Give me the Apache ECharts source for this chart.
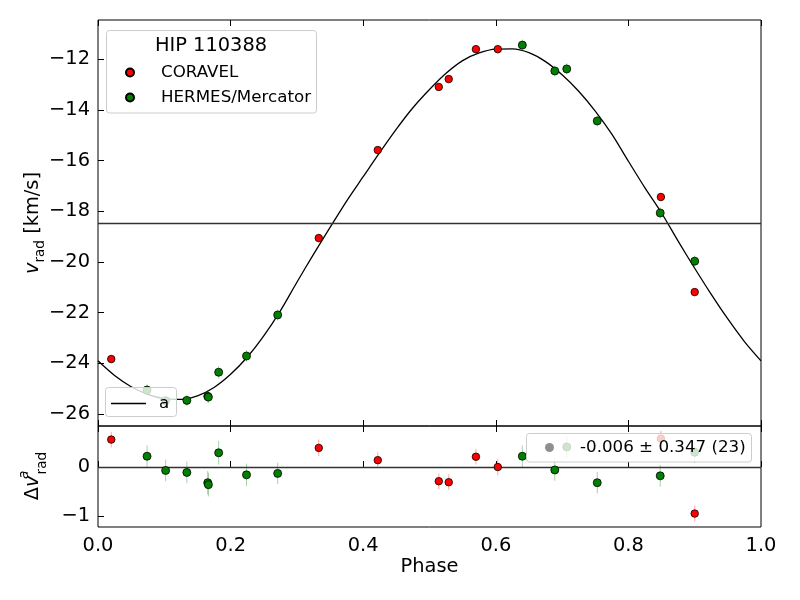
<!DOCTYPE html>
<html>
<head>
<meta charset="utf-8">
<script src="https://cdn.jsdelivr.net/npm/echarts@6/dist/echarts.min.js"></script>
<style>
  html, body { margin: 0; padding: 0; background: #fff; }
  #chart { width: 800px; height: 600px; }
</style>
</head>
<body>
<div id="chart"></div>
<script>
// CORAVEL measurements
const coravelPhase = [0.020, 0.333, 0.422, 0.514, 0.529, 0.570, 0.603, 0.849, 0.900];
const coravelVrad = [-23.83, -19.06, -15.59, -13.10, -12.79, -11.61, -11.61, -17.44, -21.19];
const coravelErr = [0.16, 0.17, 0.16, 0.16, 0.16, 0.16, 0.17, 0.16, 0.16];
const coravelResid = [0.56, 0.39, 0.14, -0.29, -0.31, 0.21, 0.00, 0.58, -0.95];

// HERMES/Mercator measurements
const hermesPhase = [0.074, 0.102, 0.134, 0.1655, 0.1665, 0.182, 0.224, 0.271, 0.640, 0.689, 0.707, 0.753, 0.848, 0.900];
const hermesVrad = [-25.05, -25.47, -25.46, -25.30, -25.33, -24.35, -23.71, -22.09, -11.45, -12.47, -12.39, -14.44, -18.07, -19.97];
const hermesErr = [0.22, 0.22, 0.22, 0.24, 0.24, 0.24, 0.23, 0.22, 0.22, 0.22, 0.22, 0.22, 0.22, 0.22];
const hermesResid = [0.22, -0.07, -0.11, -0.32, -0.36, 0.29, -0.16, -0.13, 0.22, -0.06, 0.41, -0.32, -0.18, 0.30];

// orbit model "a"
const curvePhase = [0.000, 0.025, 0.050, 0.075, 0.100, 0.125, 0.150, 0.175, 0.200, 0.225,
  0.250, 0.275, 0.300, 0.325, 0.350, 0.375, 0.400, 0.425, 0.450, 0.475,
  0.500, 0.525, 0.550, 0.575, 0.600, 0.625, 0.650, 0.675, 0.700, 0.725,
  0.750, 0.775, 0.800, 0.825, 0.850, 0.875, 0.900, 0.925, 0.950, 0.975, 1.000];
const curveVrad = [-23.90, -24.48, -24.92, -25.22, -25.39, -25.42, -25.28, -24.95, -24.43, -23.76,
  -22.92, -21.93, -20.80, -19.70, -18.64, -17.60, -16.64, -15.68, -14.76, -13.92,
  -13.20, -12.56, -12.06, -11.76, -11.61, -11.60, -11.75, -12.10, -12.62, -13.27,
  -14.05, -14.96, -16.03, -17.08, -18.07, -19.18, -20.25, -21.28, -22.25, -23.14, -23.90];
const gamma = -18.47;

const residLabel = '-0.006 ± 0.347 (23)';
const vTicks = [-26, -24, -22, -20, -18, -16, -14, -12];
const residTicks = [-1, 0];

const FONT = 'DejaVu Sans';
const pair = (xs, ys) => xs.map((x, i) => [x, ys[i]]);
const minus = v => String(v).replace('-', '\u2212');

function errorBars(xs, ys, es, color, xi, yi) {
  return {
    type: 'custom',
    xAxisIndex: xi, yAxisIndex: yi,
    z: 3,
    silent: true,
    data: xs.map((x, i) => [x, ys[i], es[i]]),
    renderItem: (params, api) => {
      const lo = api.coord([api.value(0), api.value(1) - api.value(2)]);
      const hi = api.coord([api.value(0), api.value(1) + api.value(2)]);
      return {
        type: 'line',
        shape: { x1: lo[0], y1: lo[1], x2: hi[0], y2: hi[1] },
        style: { stroke: color, lineWidth: 1 }
      };
    }
  };
}

const xTickCommon = {
  type: 'value', min: 0, max: 1, interval: 0.2,
  axisLine: { show: false },
  axisTick: { show: true, inside: true, length: 6, lineStyle: { color: '#000' } },
  splitLine: { show: false }
};

const chart = echarts.init(document.getElementById('chart'));
chart.setOption({
  animation: false,
  backgroundColor: '#fff',
  textStyle: { fontFamily: FONT },
  grid: [
    { left: 98, top: 20, width: 663, height: 406, show: true, borderColor: '#000', borderWidth: 1, backgroundColor: 'transparent' },
    { left: 98, top: 426, width: 663, height: 101, show: true, borderColor: '#000', borderWidth: 1, backgroundColor: 'transparent' }
  ],
  xAxis: [
    { ...xTickCommon, gridIndex: 0, position: 'bottom', axisLabel: { show: false } },
    { ...xTickCommon, gridIndex: 0, position: 'top', axisLabel: { show: false } },
    {
      ...xTickCommon, gridIndex: 1, position: 'bottom',
      axisLabel: { show: true, fontSize: 19.4, color: '#000', fontFamily: FONT, margin: 9, formatter: v => v.toFixed(1) },
      name: 'Phase', nameLocation: 'middle', nameGap: 30,
      nameTextStyle: { fontSize: 19.4, color: '#000', fontFamily: FONT }
    },
    { ...xTickCommon, gridIndex: 1, position: 'top', axisLabel: { show: false } }
  ],
  yAxis: [
    {
      type: 'value', gridIndex: 0, min: -26.47, max: -10.46,
      axisLine: { show: false },
      splitLine: { show: false },
      axisTick: { show: true, inside: true, length: 6, customValues: vTicks, lineStyle: { color: '#000' } },
      axisLabel: { show: true, customValues: vTicks, fontSize: 19.4, color: '#000', fontFamily: FONT, margin: 8, formatter: minus }
    },
    {
      type: 'value', gridIndex: 1, min: -1.224, max: 0.837,
      axisLine: { show: false },
      splitLine: { show: false },
      axisTick: { show: true, inside: true, length: 6, customValues: residTicks, lineStyle: { color: '#000' } },
      axisLabel: { show: true, customValues: residTicks, fontSize: 19.4, color: '#000', fontFamily: FONT, margin: 8, formatter: minus }
    }
  ],
  legend: [
    {
      data: ['CORAVEL', 'HERMES/Mercator'],
      orient: 'vertical', left: 125, top: 64, padding: 0,
      itemWidth: 8, itemHeight: 8, itemGap: 8, z: 60,
      textStyle: { fontSize: 16.7, color: '#000', fontFamily: FONT, lineHeight: 17, padding: [0, 0, 0, 22] }
    },
    {
      data: [{ name: 'a', icon: 'rect' }],
      left: 111, top: 395, padding: 0,
      itemWidth: 35, itemHeight: 1.4, z: 60,
      textStyle: { fontSize: 16.7, color: '#000', fontFamily: FONT, lineHeight: 15, padding: [0, 0, 0, 8] }
    },
    {
      data: [residLabel],
      left: 545, top: 439, padding: 0,
      itemWidth: 9, itemHeight: 9, z: 60,
      textStyle: { fontSize: 16.7, color: '#000', fontFamily: FONT, lineHeight: 17, padding: [0, 0, 0, 21] }
    }
  ],
  graphic: [
    { type: 'rect', z: 50, silent: true, shape: { x: 106.5, y: 30.5, width: 210, height: 82.5, r: 3 },
      style: { fill: 'rgba(255,255,255,0.8)', stroke: '#cccccc', lineWidth: 1 } },
    { type: 'rect', z: 50, silent: true, shape: { x: 105.5, y: 387.5, width: 71, height: 29, r: 3 },
      style: { fill: 'rgba(255,255,255,0.8)', stroke: '#cccccc', lineWidth: 1 } },
    { type: 'rect', z: 50, silent: true, shape: { x: 526.5, y: 433.5, width: 225, height: 28.5, r: 3 },
      style: { fill: 'rgba(255,255,255,0.8)', stroke: '#cccccc', lineWidth: 1 } },
    { type: 'text', z: 60, silent: true, x: 211, y: 46,
      style: { text: 'HIP 110388', fontSize: 19.4, fontFamily: FONT, fill: '#000', align: 'center', verticalAlign: 'middle' } },
    { type: 'text', z: 60, silent: true, x: 33, y: 223, rotation: Math.PI / 2,
      style: {
        text: '{i|v}{s|rad}{n| [km/s]}', align: 'center', verticalAlign: 'middle', fill: '#000',
        rich: {
          i: { fontSize: 19.4, fontStyle: 'italic', fontFamily: FONT, lineHeight: 28, fill: '#000' },
          s: { fontSize: 13.6, fontFamily: FONT, lineHeight: 15, verticalAlign: 'bottom', fill: '#000' },
          n: { fontSize: 19.4, fontFamily: FONT, lineHeight: 28, fill: '#000' }
        }
      } },
    { type: 'text', z: 60, silent: true, x: 33, y: 476, rotation: Math.PI / 2,
      style: {
        text: '{n|\u0394}{i|v}{p|a}{s|rad}', align: 'center', verticalAlign: 'middle', fill: '#000',
        rich: {
          n: { fontSize: 19.4, fontFamily: FONT, lineHeight: 32, fill: '#000' },
          i: { fontSize: 19.4, fontStyle: 'italic', fontFamily: FONT, lineHeight: 32, fill: '#000' },
          p: { fontSize: 13.6, fontStyle: 'italic', fontFamily: FONT, lineHeight: 15, verticalAlign: 'top', width: 1, fill: '#000' },
          s: { fontSize: 13.6, fontFamily: FONT, lineHeight: 15, verticalAlign: 'bottom', fill: '#000' }
        }
      } }
  ],
  series: [
    {
      name: 'a', type: 'line', xAxisIndex: 0, yAxisIndex: 0,
      data: pair(curvePhase, curveVrad),
      smooth: 0.3, symbol: 'none', z: 2,
      lineStyle: { color: '#000', width: 1.3 },
      itemStyle: { color: '#000' },
      markLine: {
        silent: true, symbol: 'none', label: { show: false },
        lineStyle: { color: '#333', width: 1.3, type: 'solid' },
        data: [{ yAxis: gamma }]
      }
    },
    errorBars(coravelPhase, coravelVrad, coravelErr, 'rgba(255,0,0,0.35)', 0, 0),
    errorBars(hermesPhase, hermesVrad, hermesErr, 'rgba(0,128,0,0.35)', 0, 0),
    {
      name: 'CORAVEL', type: 'scatter', xAxisIndex: 0, yAxisIndex: 0, z: 5,
      data: pair(coravelPhase, coravelVrad), symbolSize: 7.5,
      itemStyle: { color: '#ff0000', borderColor: '#000', borderWidth: 0.8, opacity: 1 }
    },
    {
      name: 'HERMES/Mercator', type: 'scatter', xAxisIndex: 0, yAxisIndex: 0, z: 5,
      data: pair(hermesPhase, hermesVrad), symbolSize: 8,
      itemStyle: { color: '#008000', borderColor: '#000', borderWidth: 0.8, opacity: 1 }
    },
    errorBars(coravelPhase, coravelResid, coravelErr, 'rgba(255,0,0,0.35)', 2, 1),
    errorBars(hermesPhase, hermesResid, hermesErr, 'rgba(0,128,0,0.35)', 2, 1),
    {
      name: 'CORAVEL', type: 'scatter', xAxisIndex: 2, yAxisIndex: 1, z: 5,
      data: pair(coravelPhase, coravelResid), symbolSize: 7.5,
      itemStyle: { color: '#ff0000', borderColor: '#000', borderWidth: 0.8, opacity: 1 },
      markLine: {
        silent: true, symbol: 'none', label: { show: false },
        lineStyle: { color: '#333', width: 1.3, type: 'solid' },
        data: [{ yAxis: 0 }]
      }
    },
    {
      name: 'HERMES/Mercator', type: 'scatter', xAxisIndex: 2, yAxisIndex: 1, z: 5,
      data: pair(hermesPhase, hermesResid), symbolSize: 8,
      itemStyle: { color: '#008000', borderColor: '#000', borderWidth: 0.8, opacity: 1 }
    },
    {
      name: residLabel, type: 'scatter', xAxisIndex: 2, yAxisIndex: 1,
      data: [], symbolSize: 9,
      itemStyle: { color: 'rgba(0,0,0,0.55)' }
    }
  ]
});
</script>
</body>
</html>
